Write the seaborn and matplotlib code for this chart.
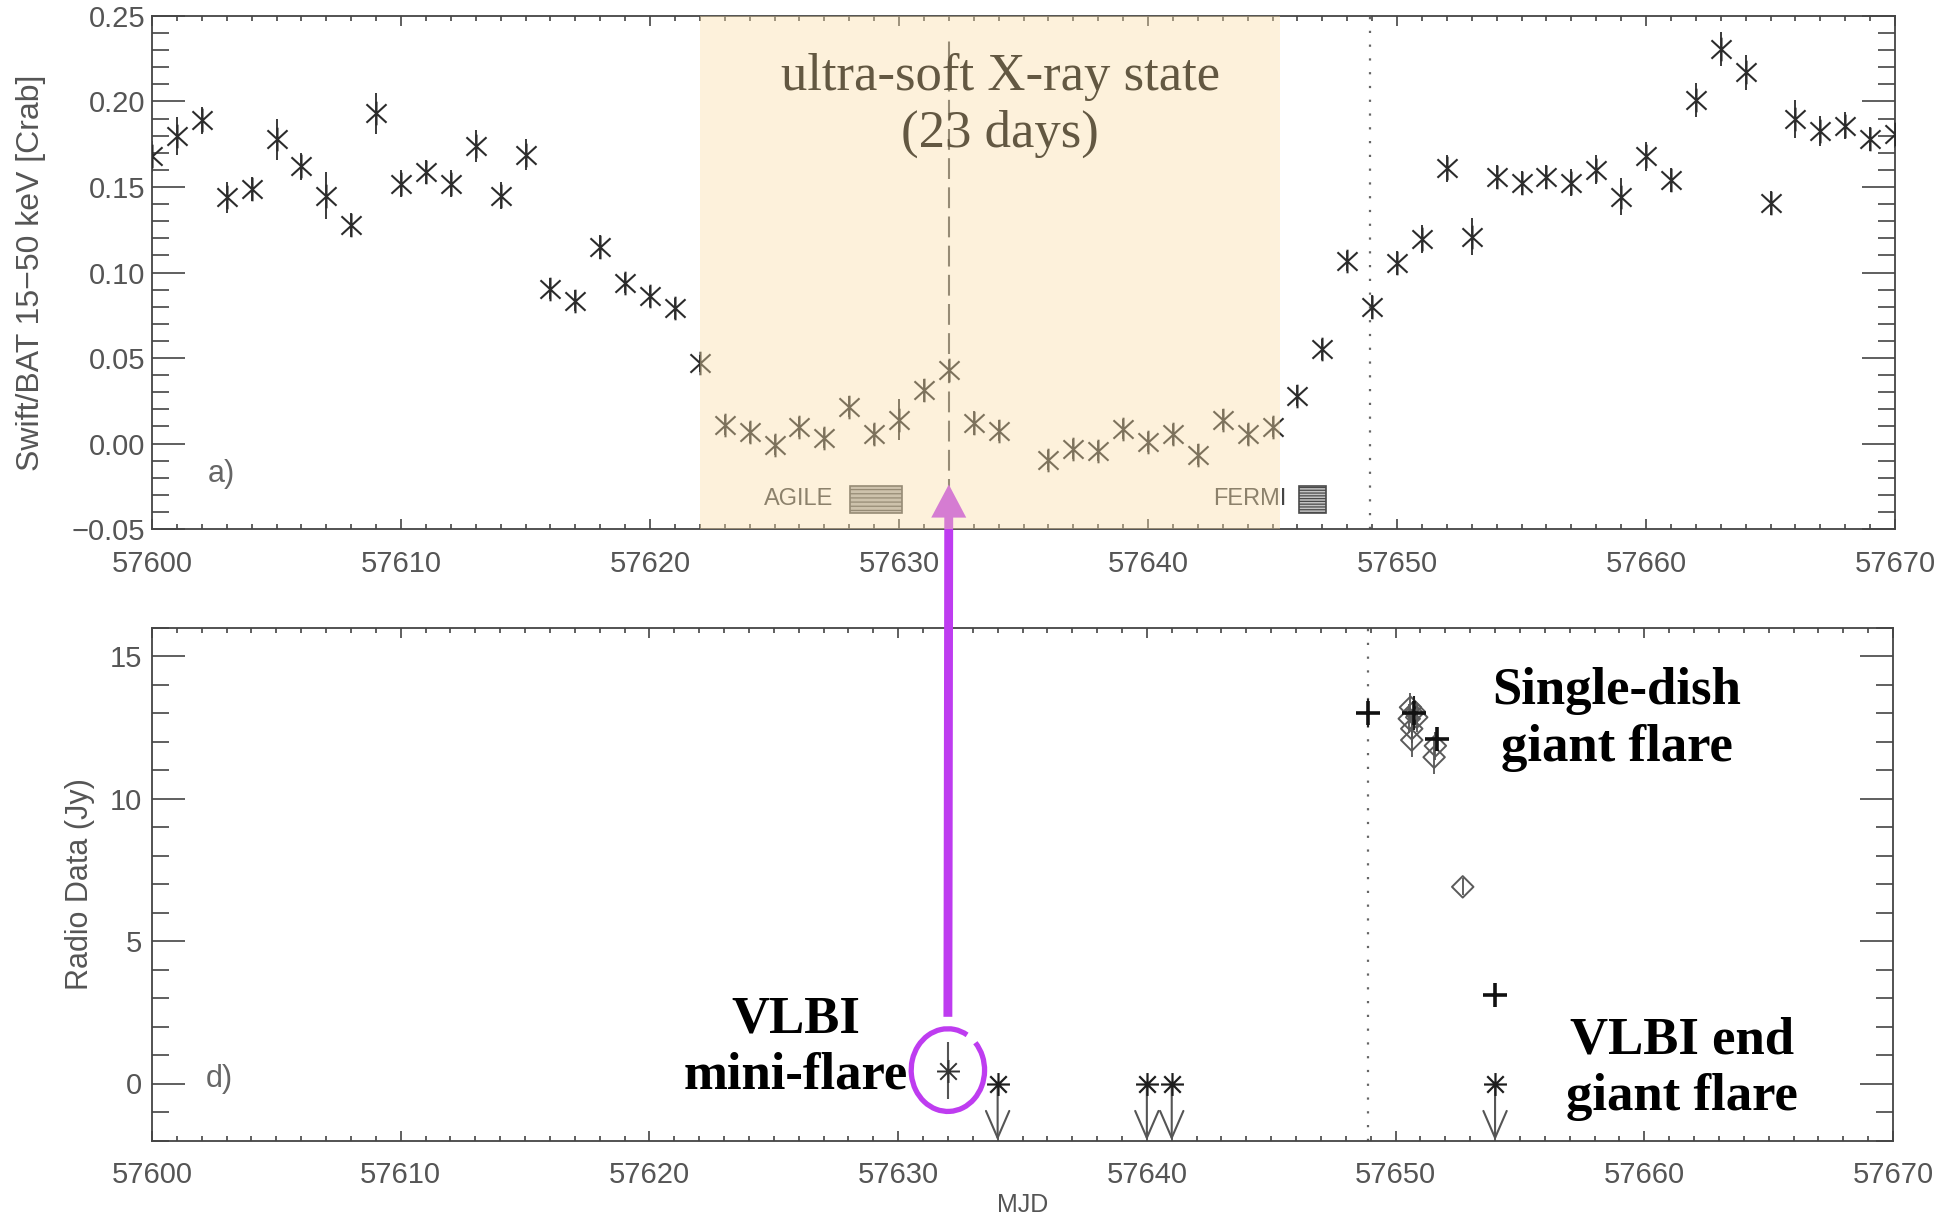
import numpy as np
import pandas as pd
import matplotlib
matplotlib.use("Agg")
import matplotlib.pyplot as plt
import seaborn as sns
from matplotlib.path import Path
from matplotlib.patches import Rectangle, Arc
from matplotlib.ticker import MultipleLocator, FuncFormatter

# ---------------- Swift/BAT 15-50 keV daily light curve ----------------
bat_mjd = [57600, 57601, 57602, 57603, 57604, 57605, 57606, 57607, 57608, 57609,
           57610, 57611, 57612, 57613, 57614, 57615, 57616, 57617, 57618, 57619,
           57620, 57621, 57622, 57623, 57624, 57625, 57626, 57627, 57628, 57629,
           57630, 57631, 57632, 57633, 57634, 57636, 57637, 57638, 57639, 57640,
           57641, 57642, 57643, 57644, 57645, 57646, 57647, 57648, 57649, 57650,
           57651, 57652, 57653, 57654, 57655, 57656, 57657, 57658, 57659, 57660,
           57661, 57662, 57663, 57664, 57665, 57666, 57667, 57668, 57669, 57670]
bat_rate = [0.168, 0.180, 0.189, 0.144, 0.149, 0.178, 0.162, 0.145, 0.128, 0.193,
            0.152, 0.159, 0.152, 0.174, 0.145, 0.169, 0.0905, 0.0836, 0.115, 0.094,
            0.086, 0.079, 0.047, 0.0108, 0.0065, -0.001, 0.0097, 0.0032, 0.0216, 0.0054,
            0.014, 0.031, 0.043, 0.0119, 0.0075, -0.0097, -0.0032, -0.0043, 0.0086, 0.001,
            0.0054, -0.0065, 0.014, 0.0054, 0.0097, 0.028, 0.055, 0.1067, 0.0797, 0.1056,
            0.1196, 0.161, 0.121, 0.1556, 0.1526, 0.1556, 0.1526, 0.160, 0.1444, 0.168,
            0.154, 0.2009, 0.2306, 0.217, 0.1407, 0.1897, 0.1828, 0.1858, 0.1778, 0.181]
bat_err = [0.009, 0.011, 0.008, 0.009, 0.007, 0.012, 0.008, 0.014, 0.007, 0.012,
           0.008, 0.007, 0.008, 0.0095, 0.008, 0.009, 0.006, 0.006, 0.007, 0.006,
           0.006, 0.006, 0.005, 0.006, 0.006, 0.006, 0.006, 0.006, 0.006, 0.006,
           0.012, 0.007, 0.006, 0.007, 0.006, 0.006, 0.006, 0.006, 0.006, 0.006,
           0.006, 0.006, 0.006, 0.006, 0.006, 0.006, 0.006, 0.006, 0.007, 0.007,
           0.008, 0.008, 0.011, 0.007, 0.007, 0.007, 0.008, 0.0085, 0.011, 0.0085,
           0.007, 0.010, 0.010, 0.010, 0.007, 0.011, 0.009, 0.008, 0.007, 0.008]

# ---------------- radio data ----------------
vlbi_det_mjd = [57632.0]
vlbi_det_flux = [0.45]
vlbi_det_err = [1.0]

vlbi_ul_mjd = [57634.0, 57640.0, 57641.0, 57654.0]
vlbi_ul_flux = [0.0, 0.0, 0.0, 0.0]

dish_plus_mjd = [57648.9, 57650.75, 57651.65, 57654.0]
dish_plus_flux = [13.0, 13.0, 12.1, 3.1]
dish_plus_err = [0.5, 0.6, 0.4, 0.0]

dish_diam_mjd = [57650.6, 57650.75, 57650.85, 57650.55, 57650.65, 57650.65,
                 57651.6, 57651.55, 57652.7]
dish_diam_flux = [13.2, 13.05, 12.85, 12.8, 12.45, 12.05, 11.85, 11.45, 6.9]
dish_diam_err = [0.5, 0.5, 0.5, 0.5, 0.5, 0.6, 0.5, 0.6, 0.3]

# ---------------- epochs ----------------
soft_start, soft_end = 57622.0, 57645.3
mini_flare_mjd = 57632.0
giant_flare_mjd = 57648.9

# ---------------- style ----------------
sns.set_theme(style="ticks")
plt.rcParams["font.family"] = ["Liberation Sans", "DejaVu Sans"]
plt.rcParams["hatch.linewidth"] = 0.9

INK = "#2b2b2b"
GREY = "#555555"
PURPLE = "#BE3CF0"
SHADE = (250 / 255, 222 / 255, 167 / 255)


def line_marker(segments):
    verts, codes = [], []
    for p0, p1 in segments:
        verts += [p0, p1]
        codes += [Path.MOVETO, Path.LINETO]
    return Path(verts, codes)


star6 = line_marker([((0, -1), (0, 1)),
                     ((-0.85, -0.78), (0.85, 0.78)),
                     ((-0.85, 0.78), (0.85, -0.78))])
star8 = line_marker([((0, -1), (0, 1)), ((-1, 0), (1, 0)),
                     ((-0.72, -0.72), (0.72, 0.72)),
                     ((-0.72, 0.72), (0.72, -0.72))])
diamond = Path([(0, 1), (1, 0), (0, -1), (-1, 0), (0, 1)],
               [Path.MOVETO, Path.LINETO, Path.LINETO, Path.LINETO, Path.CLOSEPOLY])

W, H = 1952, 1217
fig = plt.figure(figsize=(W / 100, H / 100), dpi=100)
fig.patch.set_facecolor("white")
ax_top = fig.add_axes([152 / W, 1 - 529 / H, 1743 / W, 513 / H])
ax_bot = fig.add_axes([152 / W, 1 - 1140.5 / H, 1741 / W, 513 / H])
ax_top.set_zorder(3)


def style_axes(ax, ylen_major, ylen_minor):
    for s in ax.spines.values():
        s.set_color("#444444")
        s.set_linewidth(1.3)
    ax.tick_params(which="both", direction="in", top=True, right=True,
                   color="#444444", width=1.2, labelcolor=GREY, labelsize=21)
    ax.tick_params(axis="y", which="major", length=ylen_major, pad=5)
    ax.tick_params(axis="y", which="minor", length=ylen_minor)
    ax.tick_params(axis="x", which="major", length=7.5, pad=15)
    ax.tick_params(axis="x", which="minor", length=3.5)
    ax.xaxis.set_major_locator(MultipleLocator(10))
    ax.xaxis.set_minor_locator(MultipleLocator(1))
    ax.xaxis.set_major_formatter(FuncFormatter(lambda v, p: f"{v:.0f}"))
    ax.set_xlim(57600, 57670)
    ax.grid(False)


# ================= top panel: hard X-rays =================
df_bat = pd.DataFrame({"mjd": bat_mjd, "rate": bat_rate, "err": bat_err})
ax_top.errorbar(df_bat["mjd"], df_bat["rate"], yerr=df_bat["err"], fmt="none",
                ecolor="#3a3a3a", elinewidth=1.4, zorder=2)
sns.scatterplot(data=df_bat, x="mjd", y="rate", marker=star6, s=17 ** 2,
                color=INK, edgecolor=INK, linewidth=1.5, legend=False,
                ax=ax_top, zorder=3)

ax_top.axvline(mini_flare_mjd, ymin=0, ymax=0.951, color=GREY, lw=1.5,
               ls=(0, (10, 4)), zorder=2)
ax_top.axvline(giant_flare_mjd, color="#666666", lw=1.6, ls=(0, (1, 5.2)), zorder=2)

ax_top.text(57634.06, 0.2285, "ultra-soft X-ray state\n(23 days)", ha="center",
            va="top", fontsize=38, family="Liberation Serif", color="black",
            linespacing=1.25, zorder=5)

# AGILE / FERMI coverage gaps
ax_top.text(57625.97, -0.0325, "AGILE", ha="center", va="center", fontsize=17,
            color="#444444", zorder=5)
ax_top.add_patch(Rectangle((57628.03, -0.0406), 2.09, 0.0157, facecolor="#b0b0b0",
                           edgecolor="#555555", hatch="----", lw=1.2, zorder=5))
ax_top.text(57644.1, -0.0325, "FERMI", ha="center", va="center", fontsize=17,
            color="#444444", zorder=5)
ax_top.add_patch(Rectangle((57646.07, -0.0406), 1.08, 0.0157, facecolor="#c4c4c4",
                           edgecolor="#4a4a4a", hatch="------", lw=1.2, zorder=5))

ax_top.text(57602.77, -0.0178, "a)", ha="center", va="center", fontsize=22,
            color="#666666", zorder=5)

# arrow linking the radio mini-flare to the X-ray light curve
ax_top.annotate("", xy=(mini_flare_mjd, -0.024), xycoords="data",
                xytext=(mini_flare_mjd, 2.34), textcoords=ax_bot.transData,
                arrowprops=dict(arrowstyle="simple,head_length=1.19,head_width=1.26,tail_width=0.32",
                                mutation_scale=20, color=PURPLE, lw=0,
                                shrinkA=0, shrinkB=0, clip_on=False),
                annotation_clip=False, zorder=4)

# ultra-soft state overlay
ax_top.axvspan(soft_start, soft_end, color=SHADE, alpha=0.4, lw=0, zorder=6)

style_axes(ax_top, 24, 12)
ax_top.set_ylim(-0.05, 0.25)
ax_top.yaxis.set_major_locator(MultipleLocator(0.05))
ax_top.yaxis.set_minor_locator(MultipleLocator(0.01))
ax_top.yaxis.set_major_formatter(FuncFormatter(lambda v, p: f"{v:.2f}".replace("-", "\u2212")))
ax_top.set_xlabel("")
ax_top.set_ylabel("Swift/BAT 15\u221250 keV [Crab]", fontsize=23, color=GREY)
ax_top.yaxis.set_label_coords(-0.061, 0.5)

# ================= bottom panel: radio =================
df_det = pd.DataFrame({"mjd": vlbi_det_mjd, "flux": vlbi_det_flux, "err": vlbi_det_err})
df_ul = pd.DataFrame({"mjd": vlbi_ul_mjd, "flux": vlbi_ul_flux})
df_plus = pd.DataFrame({"mjd": dish_plus_mjd, "flux": dish_plus_flux, "err": dish_plus_err})
df_diam = pd.DataFrame({"mjd": dish_diam_mjd, "flux": dish_diam_flux, "err": dish_diam_err})

ax_bot.axvline(giant_flare_mjd, color="#666666", lw=1.6, ls=(0, (1, 5.2)), zorder=1)

# VLBI upper limits: asterisk with a downward arrow
ul_len = 2.0
for xm, ym in zip(df_ul["mjd"], df_ul["flux"]):
    ax_bot.annotate("", xy=(xm, ym - ul_len), xytext=(xm, ym),
                    arrowprops=dict(arrowstyle="->,head_length=0.97,head_width=0.42",
                                    mutation_scale=20, color="#555555", lw=1.5,
                                    shrinkA=0, shrinkB=0), zorder=2)
sns.scatterplot(data=df_ul, x="mjd", y="flux", marker=star8, s=16.5 ** 2,
                color="#1e1e1e", edgecolor="#1e1e1e", linewidth=1.6, legend=False,
                ax=ax_bot, zorder=3)

# VLBI detection
ax_bot.errorbar(df_det["mjd"], df_det["flux"], yerr=df_det["err"], fmt="none",
                ecolor="#555555", elinewidth=1.5, zorder=2)
sns.scatterplot(data=df_det, x="mjd", y="flux", marker=star8, s=16.5 ** 2,
                color="#333333", edgecolor="#333333", linewidth=1.4, legend=False,
                ax=ax_bot, zorder=3)

# single-dish monitoring
ax_bot.errorbar(df_diam["mjd"], df_diam["flux"], yerr=df_diam["err"], fmt="none",
                ecolor="#555555", elinewidth=1.3, zorder=2)
sns.scatterplot(data=df_diam, x="mjd", y="flux", marker=diamond, s=15.5 ** 2,
                facecolor="none", edgecolor="#5a5a5a", linewidth=1.4, legend=False,
                ax=ax_bot, zorder=3)
ax_bot.errorbar(df_plus["mjd"], df_plus["flux"], yerr=df_plus["err"], fmt="none",
                ecolor="#222222", elinewidth=1.5, zorder=3)
sns.scatterplot(data=df_plus, x="mjd", y="flux", marker="+", s=17 ** 2,
                color="#111111", linewidth=2.6, legend=False, ax=ax_bot, zorder=4)

# annotations
ax_bot.add_patch(Arc((mini_flare_mjd, 0.47), width=2.95, height=2.9, theta1=58,
                     theta2=401, color=PURPLE, lw=3.8, zorder=6))
bold = dict(ha="center", va="top", fontsize=38, family="Liberation Serif",
            fontweight="bold", color="black", linespacing=1.22, zorder=7)
ax_bot.text(57625.9, 3.08, "VLBI\nmini-flare", **bold)
ax_bot.text(57658.9, 14.6, "Single-dish\ngiant flare", **bold)
ax_bot.text(57661.5, 2.35, "VLBI end\ngiant flare", **bold)
ax_bot.text(57602.7, 0.15, "d)", ha="center", va="center", fontsize=22,
            color="#666666", zorder=5)

style_axes(ax_bot, 24, 12)
ax_bot.set_ylim(-2, 16)
ax_bot.yaxis.set_major_locator(MultipleLocator(5))
ax_bot.yaxis.set_minor_locator(MultipleLocator(1))
ax_bot.yaxis.set_major_formatter(FuncFormatter(lambda v, p: f"{v:.0f}"))
ax_bot.tick_params(axis="y", which="major", pad=7)
ax_bot.set_xlabel("MJD", fontsize=18, color=GREY)
ax_bot.xaxis.set_label_coords(0.5, -0.103)
ax_bot.set_ylabel("Radio Data (Jy)", fontsize=22, color=GREY)
ax_bot.yaxis.set_label_coords(-0.033, 0.5)

fig.savefig("out.png", dpi=100, facecolor="white")
